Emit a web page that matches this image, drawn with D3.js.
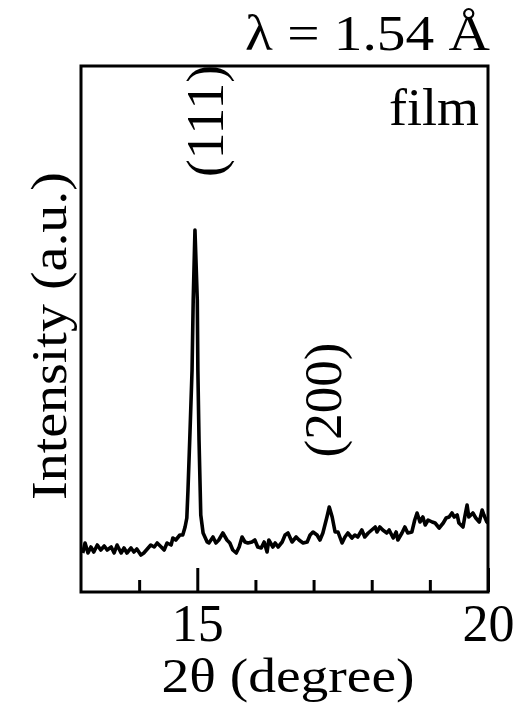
<!DOCTYPE html>
<html>
<head>
<meta charset="utf-8">
<script src="https://cdn.jsdelivr.net/npm/d3@7"></script>
<style>
  body { margin: 0; background: #fff; }
  svg { display: block; }
  text { font-family: "Liberation Serif", "Times New Roman", serif; fill: #000; }
</style>
</head>
<body>
<div id="chart"></div>
<script>
// XRD pattern (2theta in degrees, intensity in a.u.)
const twoTheta = [
  13.03, 13.07, 13.12, 13.17, 13.22, 13.28, 13.34, 13.40, 13.45, 13.52,
  13.57, 13.62, 13.69, 13.74, 13.79, 13.86, 13.91, 13.96, 14.03, 14.08,
  14.14, 14.20, 14.26, 14.31, 14.38, 14.43, 14.48, 14.55, 14.58, 14.63,
  14.70, 14.75, 14.79, 14.82, 14.84, 14.87, 14.91, 14.93, 14.96, 15.00,
  15.01, 15.03, 15.05, 15.06, 15.10, 15.17, 15.20, 15.27, 15.32, 15.37,
  15.44, 15.51, 15.56, 15.61, 15.67, 15.72, 15.77, 15.82, 15.87, 15.94,
  15.99, 16.04, 16.10, 16.15, 16.20, 16.23, 16.30, 16.34, 16.39, 16.46,
  16.51, 16.56, 16.63, 16.70, 16.75, 16.82, 16.89, 16.94, 16.99, 17.06,
  17.11, 17.16, 17.23, 17.27, 17.32, 17.37, 17.42, 17.49, 17.54, 17.59,
  17.66, 17.71, 17.76, 17.83, 17.88, 17.94, 18.00, 18.06, 18.09, 18.14,
  18.19, 18.26, 18.30, 18.37, 18.42, 18.45, 18.52, 18.57, 18.62, 18.69,
  18.74, 18.78, 18.83, 18.88, 18.92, 18.97, 19.04, 19.09, 19.16, 19.23,
  19.28, 19.33, 19.38, 19.42, 19.47, 19.50, 19.57, 19.60, 19.64, 19.67,
  19.74, 19.79, 19.85, 19.90, 19.93, 19.98, 20.00
];
const intensity = [
  39, 49, 39, 45, 40, 47, 42, 46, 42, 45,
  39, 47, 39, 44, 39, 44, 40, 43, 37, 39,
  43, 47, 45, 49, 45, 42, 49, 47, 54, 52,
  57, 57, 65, 74, 102, 152, 222, 292, 362, 292,
  222, 152, 102, 77, 59, 50, 49, 55, 49, 52,
  59, 52, 49, 42, 39, 45, 55, 50, 49, 50,
  52, 45, 44, 50, 40, 52, 45, 49, 45, 50,
  57, 59, 50, 55, 52, 49, 50, 57, 60, 57,
  52, 59, 75, 85, 75, 60, 60, 49, 55, 59,
  54, 57, 55, 62, 55, 59, 62, 65, 60, 65,
  62, 59, 62, 54, 60, 52, 59, 65, 59, 60,
  72, 79, 70, 75, 67, 72, 70, 69, 64, 69,
  74, 75, 79, 75, 77, 69, 65, 75, 87, 75,
  79, 74, 70, 82, 77, 70, 69
];
const minorTicks = [14, 16, 17, 18, 19];
const majorTicks = [15, 20];
const peakLabels = ["(111)", "(200)"];

const width = 517, height = 710;
const margin = {top: 66, right: 29, bottom: 118, left: 81};

const svg = d3.select("#chart").append("svg")
  .attr("width", width)
  .attr("height", height);

const x = d3.scaleLinear().domain([13, 20]).range([margin.left, width - margin.right]);
const y = d3.scaleLinear().domain([0, 526]).range([height - margin.bottom, margin.top]);

const data = twoTheta.map((t, i) => ({t: t, v: intensity[i]}));

// trace
svg.append("path")
  .datum(data)
  .attr("fill", "none")
  .attr("stroke", "#000")
  .attr("stroke-width", 3.6)
  .attr("stroke-linejoin", "round")
  .attr("d", d3.line().x(d => x(d.t)).y(d => y(d.v)));

// frame
svg.append("rect")
  .attr("x", x(13)).attr("y", y(526))
  .attr("width", x(20) - x(13)).attr("height", y(0) - y(526))
  .attr("fill", "none").attr("stroke", "#000").attr("stroke-width", 3);

// minor ticks, pointing in
svg.append("g")
  .attr("transform", `translate(0,${y(0)})`)
  .call(d3.axisBottom(x).tickValues(minorTicks).tickSize(-12).tickFormat(""))
  .call(g => g.select(".domain").remove())
  .call(g => g.selectAll("line").attr("stroke-width", 3));

// major ticks with labels
svg.append("g")
  .attr("transform", `translate(0,${y(0)})`)
  .call(d3.axisBottom(x).tickValues(majorTicks).tickSize(-24).tickPadding(12).tickFormat(d3.format("d")))
  .call(g => g.select(".domain").remove())
  .call(g => g.selectAll("line").attr("stroke-width", 3))
  .call(g => g.selectAll("text").style("font-size", "52px").attr("fill", "#000")
    .attr("textLength", 52).attr("lengthAdjust", "spacingAndGlyphs"));

// axis titles
svg.append("text")
  .attr("x", 288)
  .attr("y", 692)
  .attr("text-anchor", "middle")
  .attr("textLength", 253).attr("lengthAdjust", "spacingAndGlyphs")
  .style("font-size", "49px")
  .text("2θ (degree)");

svg.append("text")
  .attr("transform", "translate(66,336) rotate(-90)")
  .attr("text-anchor", "middle")
  .attr("textLength", 328).attr("lengthAdjust", "spacingAndGlyphs")
  .style("font-size", "51px")
  .text("Intensity (a.u.)");

// peak labels
const labelCenterY = [121, 400];
const labelBaseX = [223, 341];
const labelLen = [112, 115];
peakLabels.forEach((s, i) => {
  svg.append("text")
    .attr("transform", `translate(${labelBaseX[i]},${labelCenterY[i]}) rotate(-90)`)
    .attr("text-anchor", "middle")
    .attr("textLength", labelLen[i]).attr("lengthAdjust", "spacingAndGlyphs")
    .style("font-size", "52px")
    .text(s);
});

// annotations
svg.append("text")
  .attr("x", 490).attr("y", 50)
  .attr("text-anchor", "end")
  .attr("textLength", 245).attr("lengthAdjust", "spacingAndGlyphs")
  .style("font-size", "50px")
  .text("λ = 1.54 Å");

svg.append("text")
  .attr("x", 479).attr("y", 125)
  .attr("text-anchor", "end")
  .attr("textLength", 90).attr("lengthAdjust", "spacingAndGlyphs")
  .style("font-size", "52px")
  .text("film");
</script>
</body>
</html>
